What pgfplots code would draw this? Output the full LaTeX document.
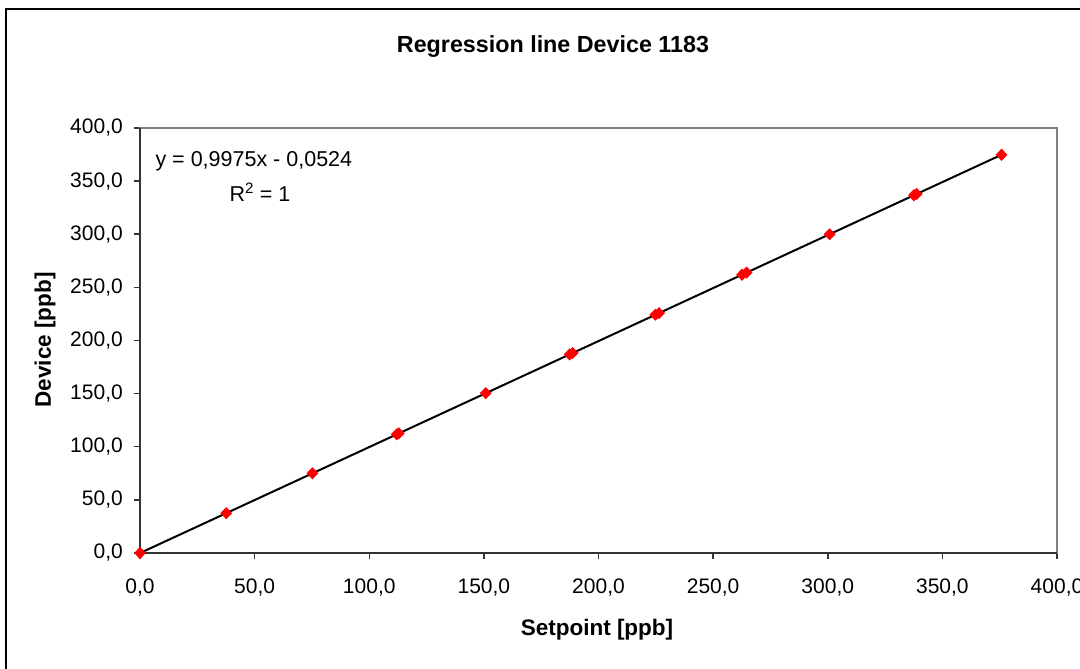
\documentclass[border=0pt]{standalone}
\usepackage{fontspec}
\setmainfont{Liberation Sans}
\usepackage{pgfplots}
\pgfplotsset{compat=1.18}
\definecolor{plotborder}{HTML}{808080}
\definecolor{axisdark}{HTML}{333333}
\definecolor{markred}{HTML}{FF0000}

\begin{document}
\begin{tikzpicture}
\useasboundingbox (0pt,0pt) rectangle (1080pt,669pt);
% chart area frame (runs off the right and bottom edge)
\draw[black, line width=1.5pt] (6pt,660pt) rectangle (1100pt,-20pt);
\begin{axis}[
  at={(140pt,116pt)}, anchor=south west,
  scale only axis, width=917pt, height=425pt,
  xmin=0, xmax=400, ymin=0, ymax=400,
  xtick={0,50,...,400}, ytick={0,50,...,400},
  tick pos=left, tick align=outside,
  major tick length=6pt,
  tick style={axisdark, line width=1.5pt},
  axis line style={plotborder, line width=2pt},
  /pgf/number format/.cd, fixed, fixed zerofill, precision=1, use comma,
  assume math mode=true, /pgfplots/.cd,
  tick label style={font=\fontsize{21}{25}\selectfont, text=black, inner sep=0pt},
  xticklabel style={yshift=-20pt},
  yticklabel style={xshift=-11pt},
  clip=false]
\addplot[black, line width=2pt] coordinates {(0,-0.0524) (376,375.01)};
\addplot[only marks, mark=diamond*, mark size=5pt,
  mark options={fill=markred, draw=markred, line width=1.5pt, xscale=1.3}] coordinates {
  (0,0) (37.6,37.5) (75.2,75.0) (112.0,111.7) (112.9,112.6)
  (150.8,150.4) (187.4,186.9) (188.7,188.2) (224.8,224.2) (226.4,225.8)
  (262.6,261.9) (264.6,263.9) (300.8,300.0) (337.6,336.7) (338.8,337.9)
  (375.8,374.8)};
\draw[axisdark, line width=2pt] (rel axis cs:0,1) -- (rel axis cs:0,0) -- (rel axis cs:1,0);
\end{axis}
\node[font=\fontsize{23.3}{28}\selectfont\bfseries] at (553pt,622pt) {Regression line Device 1183};
\node[font=\fontsize{22.5}{27}\selectfont\bfseries, rotate=90] at (45pt,329pt) {Device [ppb]};
\node[font=\fontsize{22.5}{27}\selectfont\bfseries] at (597pt,39pt) {Setpoint [ppb]};
\node[font=\fontsize{21.5}{26}\selectfont, anchor=west] at (152pt,508pt) {y = 0,9975x - 0,0524};
\node[font=\fontsize{21.5}{26}\selectfont, anchor=west] at (226pt,477pt) {R\textsuperscript{2} = 1};
\end{tikzpicture}
\end{document}
